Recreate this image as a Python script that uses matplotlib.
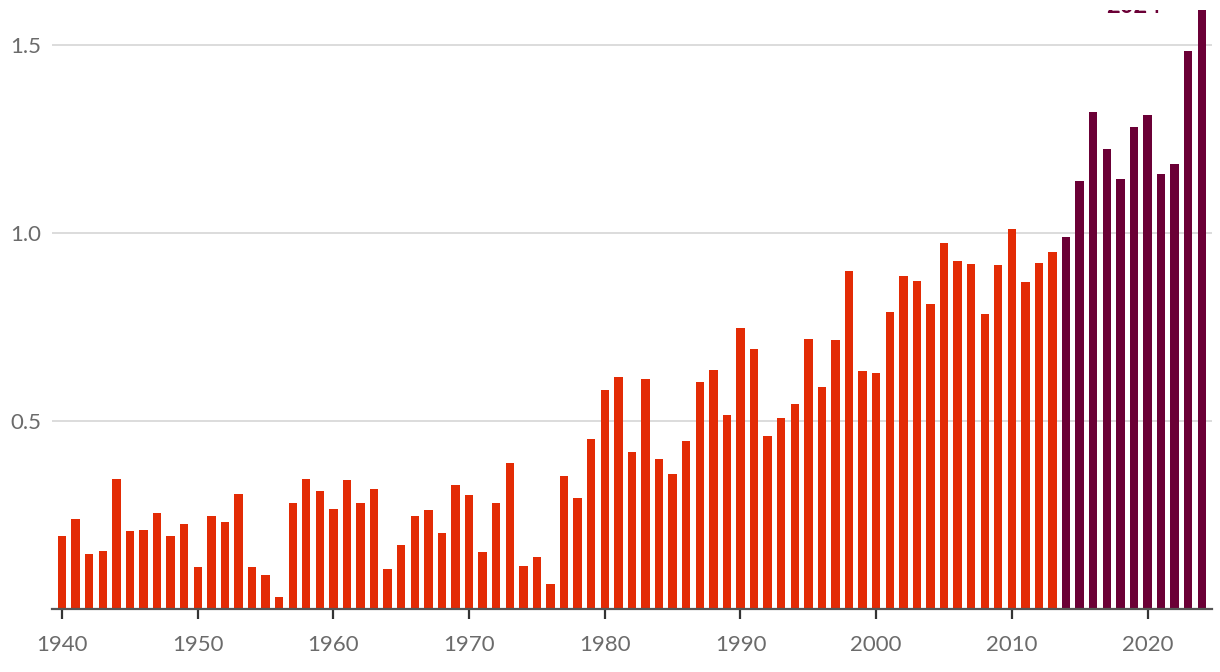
import matplotlib.pyplot as plt

years = list(range(1940, 2025))
anomaly = [
    0.193, 0.239, 0.147, 0.153, 0.345, 0.207, 0.209, 0.255, 0.193, 0.225,  # 1940s
    0.113, 0.247, 0.231, 0.307, 0.111, 0.091, 0.031, 0.281, 0.345, 0.313,  # 1950s
    0.265, 0.342, 0.281, 0.318, 0.107, 0.171, 0.247, 0.263, 0.201, 0.329,  # 1960s
    0.303, 0.151, 0.283, 0.387, 0.115, 0.137, 0.067, 0.353, 0.295, 0.451,  # 1970s
    0.582, 0.616, 0.417, 0.611, 0.398, 0.358, 0.446, 0.603, 0.635, 0.515,  # 1980s
    0.747, 0.691, 0.459, 0.507, 0.545, 0.718, 0.590, 0.715, 0.898, 0.632,  # 1990s
    0.627, 0.790, 0.886, 0.872, 0.811, 0.974, 0.926, 0.918, 0.784, 0.914,  # 2000s
    1.010, 0.870, 0.920, 0.950, 0.990, 1.138, 1.322, 1.224, 1.144, 1.282,  # 2010s
    1.314, 1.158, 1.184, 1.485, 1.600,                                     # 2020s
]
recent_from = 2014
yticks = [0.5, 1.0, 1.5]
xticks = [1940, 1950, 1960, 1970, 1980, 1990, 2000, 2010, 2020]

RED = '#e32b05'
PURPLE = '#6b0036'

plt.rcParams['font.family'] = ['Lato', 'DejaVu Sans']

fig = plt.figure(figsize=(12.2, 6.72), dpi=100)
# the plot area is cropped at the top, just above the 1.5 line
ax = fig.add_axes([52 / 1220, 63 / 672, 1160 / 1220, 599 / 672])

colors = [PURPLE if y >= recent_from else RED for y in years]
ax.bar(years, anomaly, width=0.62, color=colors, zorder=3)

ax.set_xlim(1939.26, 2024.75)
ax.set_ylim(0, 1.593)

for v in yticks:
    ax.axhline(v, color='#d9d9d9', lw=1.3, zorder=1)
ax.axhline(0, color='#555555', lw=1.6, zorder=4, clip_on=False)

ax.set_yticks(yticks)
ax.set_yticklabels([f'{v:.1f}' for v in yticks])
ax.set_xticks(xticks)
ax.set_xticklabels([str(x) for x in xticks])
ax.tick_params(axis='y', length=0, pad=8, labelsize=16, labelcolor='#6b6b6b')
ax.tick_params(axis='x', length=7, width=1.6, color='#333333', pad=12,
               labelsize=16, labelcolor='#6b6b6b')

for s in ax.spines.values():
    s.set_visible(False)

# label for the record year, cropped along with the plot area
ax.text(2019, 1.585, '2024', color=PURPLE, fontsize=17, fontweight='bold',
        ha='center', va='baseline', clip_on=True)

fig.savefig('out.png', dpi=100)
